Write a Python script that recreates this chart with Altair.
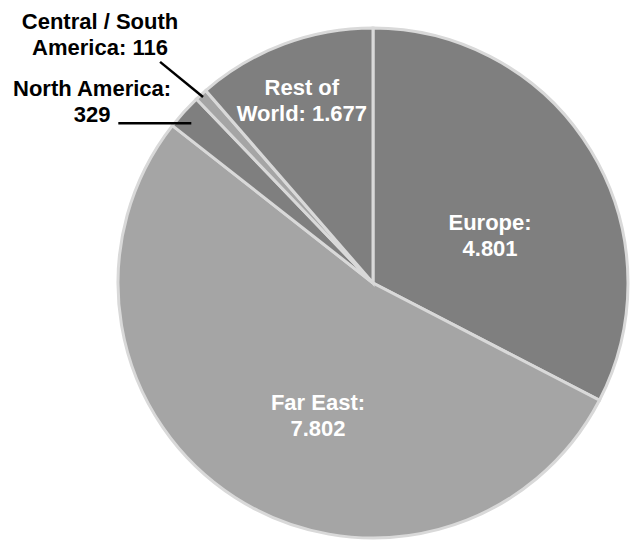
import math
import altair as alt
import pandas as pd

regions = ["Europe", "Far East", "North America", "Central / South America", "Rest of World"]
values = [4801, 7802, 329, 116, 1677]
label_text = ["Europe:\n4.801", "Far East:\n7.802", "North America:\n329",
              "Central / South\nAmerica: 116", "Rest of\nWorld: 1.677"]
colors = ["#7f7f7f", "#a5a5a5", "#7f7f7f", "#a5a5a5", "#7f7f7f"]
text_colors = ["#ffffff", "#ffffff", "#000000", "#000000", "#ffffff"]

# layout (plot coordinates)
CX, CY, R = 365, 275, 255
# label placement: (radius, angle offset from slice mid-angle in degrees)
label_layout = [(126, 9.6), (144, -10.3), (334, -9.4), (369, -5.3), (195, -0.9)]

df = pd.DataFrame({"region": regions, "value": values, "order": range(len(regions)),
                   "color": colors})

total = sum(values)
mids = []
acc = 0
for v in values:
    mids.append((acc + v / 2) / total * 360)
    acc += v

def polar(r, deg):
    a = math.radians(deg)
    return CX + r * math.sin(a), CY - r * math.cos(a)

lab_rows = []
for i, t in enumerate(label_text):
    r, off = label_layout[i]
    x, y = polar(r, mids[i] + off)
    lab_rows.append({"text": t, "x": x, "y": y, "tc": text_colors[i]})
labels = pd.DataFrame(lab_rows)

# leader lines
cs_x1, cs_y1 = polar(R - 3, mids[3])
cs_x2, cs_y2 = polar(307, mids[3] - 1.5)
na_x1, na_y1 = polar(242, mids[2] - 0.8)
na_x2, na_y2 = na_x1 - 73, na_y1
lines = pd.DataFrame({"x": [cs_x1, na_x1], "y": [cs_y1, na_y1],
                      "x2": [cs_x2, na_x2], "y2": [cs_y2, na_y2]})

pie = alt.Chart(df).mark_arc(stroke="#d9d9d9", strokeWidth=3, radius=R).encode(
    theta=alt.Theta("value:Q", stack=True),
    order=alt.Order("order:Q"),
    color=alt.Color("color:N", scale=None),
    x=alt.value(CX),
    y=alt.value(CY),
)

text = alt.Chart(labels).mark_text(
    font="Liberation Sans", fontWeight="bold", fontSize=22, lineBreak="\n",
    lineHeight=26, align="center", baseline="middle", dy=-13
).encode(
    x=alt.X("x:Q", scale=None),
    y=alt.Y("y:Q", scale=None),
    text="text:N",
    color=alt.Color("tc:N", scale=None),
)

leaders = alt.Chart(lines).mark_rule(color="#000000", strokeWidth=2.5).encode(
    x=alt.X("x:Q", scale=None),
    y=alt.Y("y:Q", scale=None),
    x2="x2:Q",
    y2="y2:Q",
)

chart = alt.layer(pie, leaders, text).properties(
    width=624, height=532, padding=0, autosize="none", background="#ffffff"
).configure_view(stroke=None)

chart.save("out.html", embed_options={"renderer": "svg", "actions": False})
